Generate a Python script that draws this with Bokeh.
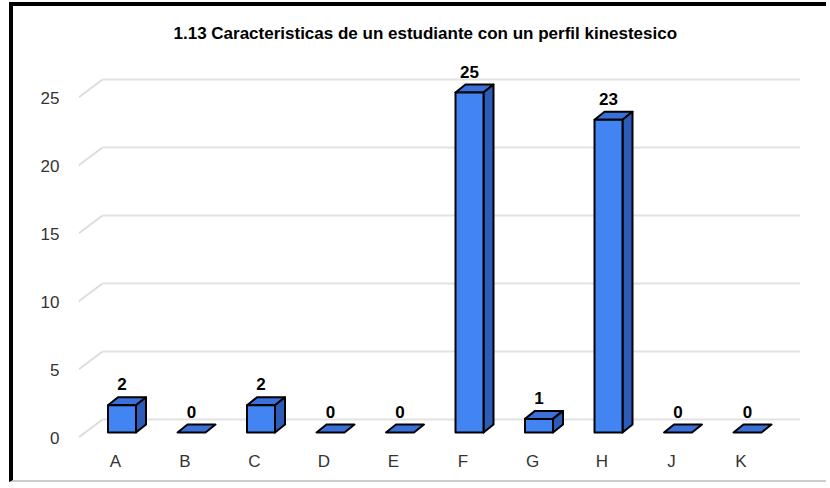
from bokeh.plotting import figure
from bokeh.models import ColumnDataSource, FixedTicker
from bokeh.embed import file_html
from bokeh.resources import INLINE
from bokeh.core.properties import value

# ---- data ----
categories = ["A", "B", "C", "D", "E", "F", "G", "H", "J", "K"]
counts = [2, 0, 2, 0, 0, 25, 1, 23, 0, 0]
y_ticks = [0, 5, 10, 15, 20, 25]
title_text = "1.13 Caracteristicas de un estudiante con un perfil kinestesico"

# ---- geometry (pixels -> data units) ----
FRAME_W, FRAME_H = 722, 389
PX_X = 69.5   # px per category
PX_Y = 13.6   # px per unit
x_start = -37 / PX_X
x_end = x_start + FRAME_W / PX_X
y_end = FRAME_H / PX_Y

HW = 14 / PX_X            # half width of bar front
DX1, DY1 = 6.5 / PX_X, 5 / PX_Y     # bar front offset from floor front
BDX, BDY = 10 / PX_X, 8 / PX_Y      # bar depth
GDX, GDY = 24 / PX_X, 18 / PX_Y     # floor depth (gridlines)

front_xs, front_ys, top_xs, top_ys, side_xs, side_ys = [], [], [], [], [], []
lab_x, lab_y, lab_t = [], [], []
for i, v in enumerate(counts):
    L = i + DX1 - HW
    R = i + DX1 + HW
    b = DY1
    t = v + DY1
    top_xs.append([L, R, R + BDX, L + BDX])
    top_ys.append([t, t, t + BDY, t + BDY])
    if v > 0:
        front_xs.append([L, R, R, L])
        front_ys.append([b, b, t, t])
        side_xs.append([R, R + BDX, R + BDX, R])
        side_ys.append([b, b + BDY, t + BDY, t])
    lab_x.append(i + DX1)
    lab_y.append(t + BDY)
    lab_t.append(str(v))

p = figure(width=817, height=480, x_range=(x_start, x_end), y_range=(0, y_end),
           output_backend="svg", toolbar_location=None,
           min_border_left=65, min_border_right=30, min_border_top=42,
           min_border_bottom=49)
p.styles = {"margin-left": "9px", "margin-top": "2px",
            "border-left": "4px solid black", "border-top": "4px solid black",
            "border-bottom": "2px solid #cccccc"}
p.outline_line_color = None
p.background_fill_color = "white"
p.border_fill_color = "white"
p.grid.visible = False

p.title.text = title_text
p.title.align = "left"
p.title.offset = 95
p.title.text_font = "Liberation Sans"
p.title.text_font_size = "17px"
p.title.text_font_style = "bold"
p.title.text_color = "black"
p.title.standoff = 12

# 3D gridlines: diagonal from floor front to back wall, then along back wall
gx0 = [x_start for _ in y_ticks]
gy0 = [v for v in y_ticks]
gx1 = [x_start + GDX for _ in y_ticks]
gy1 = [v + GDY for v in y_ticks]
gx2 = [x_end for _ in y_ticks]
p.segment(gx0, gy0, gx1, gy1, line_color="#dcdcdc", line_width=2)
p.segment(gx1, gy1, gx2, gy1, line_color="#e2e2e2", line_width=2)

p.patches(top_xs, top_ys, fill_color="#3a70d8", line_color="black", line_width=2,
          line_join="round")
p.patches(side_xs, side_ys, fill_color="#2c5bb8", line_color="black", line_width=2,
          line_join="round")
p.patches(front_xs, front_ys, fill_color="#4284f2", line_color="black", line_width=2,
          line_join="round")

src = ColumnDataSource(dict(x=lab_x, y=lab_y, t=lab_t))
p.text("x", "y", text="t", source=src, text_align="center", text_baseline="bottom",
       y_offset=-7, text_font_size="17px", text_font_style="bold",
       text_color="black", text_font=value("Liberation Sans"))

# axes
p.xaxis.ticker = FixedTicker(ticks=list(range(len(categories))))
p.xaxis.major_label_overrides = {i: c for i, c in enumerate(categories)}
p.yaxis.ticker = FixedTicker(ticks=y_ticks)
for ax in (p.xaxis, p.yaxis):
    ax.axis_line_color = None
    ax.major_tick_line_color = None
    ax.minor_tick_line_color = None
    ax.major_label_text_font = "Liberation Sans"
    ax.major_label_text_font_size = "17px"
    ax.major_label_text_color = "#333333"
p.xaxis.major_label_standoff = 8
p.yaxis.major_label_standoff = 13

open("out.html", "w").write(file_html(p, INLINE))
